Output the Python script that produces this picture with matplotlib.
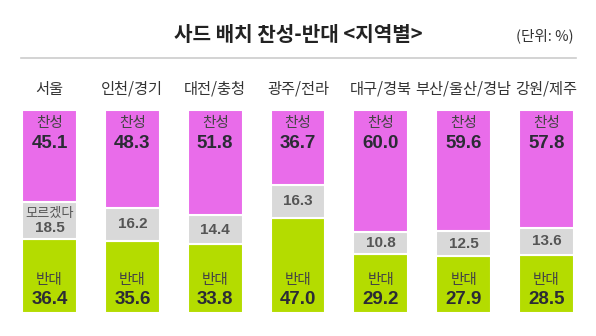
import matplotlib
matplotlib.use("Agg")
import matplotlib.pyplot as plt
import numpy as np

regions = ["서울", "인천/경기", "대전/충청", "광주/전라", "대구/경북", "부산/울산/경남", "강원/제주"]
agree = [45.1, 48.3, 51.8, 36.7, 60.0, 59.6, 57.8]
unsure = [18.5, 16.2, 14.4, 16.3, 10.8, 12.5, 13.6]
oppose = [36.4, 35.6, 33.8, 47.0, 29.2, 27.9, 28.5]

C_AGREE = "#E96CEA"
C_UNSURE = "#D9D9D9"
C_OPPOSE = "#B4DC00"
C_TEXT = "#2B2B35"

KR = ["Noto Sans CJK KR", "DejaVu Sans"]
NUM = ["Liberation Sans", "Noto Sans CJK KR"]

plt.rcParams["font.family"] = KR

fig = plt.figure(figsize=(5.96, 3.36), dpi=100)
fig.patch.set_facecolor("white")

# title block
fig.text(0.50, 0.897, "사드 배치 찬성-반대 <지역별>", ha="center", va="center",
         fontsize=14.5, fontweight="bold", color="#222222")
fig.text(0.962, 0.894, "(단위: %)", ha="right", va="center", fontsize=10.5, color="#333333")
fig.add_artist(plt.Line2D([0.035, 0.967], [0.828, 0.828], color="#CCCCCC", lw=1.2))

ax = fig.add_axes([0.0, 0.0685, 1.0, 0.604])
x = np.arange(len(regions))
w = 0.664
b1 = np.array(oppose)
b2 = b1 + np.array(unsure)
ax.bar(x, oppose, w, color=C_OPPOSE, edgecolor="white", lw=1.5)
ax.bar(x, unsure, w, bottom=b1, color=C_UNSURE, edgecolor="white", lw=1.5)
ax.bar(x, agree, w, bottom=b2, color=C_AGREE, edgecolor="white", lw=1.5)
ax.set_xlim(-0.598, len(regions) - 1 + 0.598)
ax.set_ylim(0, 100)
ax.axis("off")

for i, r in enumerate(regions):
    ax.annotate(r, (x[i], 100), xytext=(0, 21), textcoords="offset pixels",
                ha="center", va="center", fontsize=11, color="#333333", annotation_clip=False)
    # 찬성
    ax.annotate("찬성", (x[i], 100), xytext=(0, -13), textcoords="offset pixels",
                ha="center", va="center", fontsize=10.5, color="#444444")
    ax.annotate(f"{agree[i]:.1f}", (x[i], 100), xytext=(0, -33), textcoords="offset pixels",
                ha="center", va="center", fontsize=13.5, fontweight="bold", color=C_TEXT,
                family=NUM)
    # 모르겠다
    mid = b1[i] + unsure[i] / 2
    if i == 0:
        ax.annotate("모르겠다", (x[i], mid), xytext=(0, 7), textcoords="offset pixels",
                    ha="center", va="center", fontsize=9.5, color="#555555")
        ax.annotate(f"{unsure[i]:.1f}", (x[i], mid), xytext=(0, -8), textcoords="offset pixels",
                    ha="center", va="center", fontsize=11, fontweight="bold", color="#555555",
                    family=NUM)
    else:
        ax.text(x[i], mid, f"{unsure[i]:.1f}", ha="center", va="center", fontsize=11,
                fontweight="bold", color="#555555", family=NUM)
    # 반대
    ax.annotate("반대", (x[i], 0), xytext=(0, 33), textcoords="offset pixels",
                ha="center", va="center", fontsize=10.5, color="#444444")
    ax.annotate(f"{oppose[i]:.1f}", (x[i], 0), xytext=(0, 13), textcoords="offset pixels",
                ha="center", va="center", fontsize=13.5, fontweight="bold", color=C_TEXT,
                family=NUM)

fig.savefig("out.png", dpi=100)
